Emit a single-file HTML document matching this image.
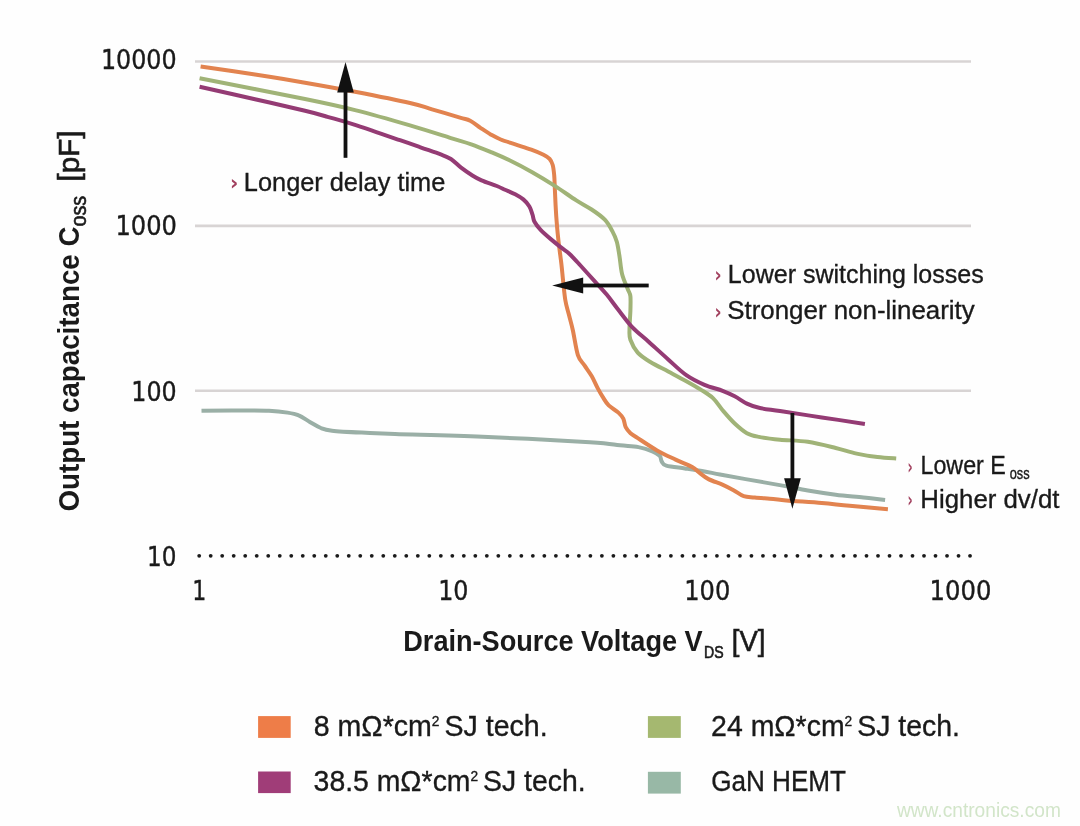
<!DOCTYPE html>
<html><head><meta charset="utf-8"><title>Output capacitance vs drain-source voltage</title>
<style>html,body{margin:0;padding:0;background:#fefefe;}body{width:1080px;height:826px;overflow:hidden;position:relative;}</style>
</head><body>
<svg width="1080" height="826" viewBox="0 0 1080 826" style="position:absolute;left:0;top:0;will-change:transform">
<line x1="195" y1="61.5" x2="971" y2="61.5" stroke="#d8d4d4" stroke-width="2.6"/>
<line x1="195" y1="225.9" x2="971" y2="225.9" stroke="#d8d4d4" stroke-width="2.6"/>
<line x1="195" y1="390.7" x2="971" y2="390.7" stroke="#d8d4d4" stroke-width="2.6"/>
<g fill="#1a1a1a"><circle cx="199.20" cy="555.8" r="1.9"/><circle cx="210.70" cy="555.8" r="1.9"/><circle cx="222.21" cy="555.8" r="1.9"/><circle cx="233.71" cy="555.8" r="1.9"/><circle cx="245.22" cy="555.8" r="1.9"/><circle cx="256.73" cy="555.8" r="1.9"/><circle cx="268.23" cy="555.8" r="1.9"/><circle cx="279.74" cy="555.8" r="1.9"/><circle cx="291.24" cy="555.8" r="1.9"/><circle cx="302.75" cy="555.8" r="1.9"/><circle cx="314.25" cy="555.8" r="1.9"/><circle cx="325.75" cy="555.8" r="1.9"/><circle cx="337.26" cy="555.8" r="1.9"/><circle cx="348.76" cy="555.8" r="1.9"/><circle cx="360.27" cy="555.8" r="1.9"/><circle cx="371.77" cy="555.8" r="1.9"/><circle cx="383.28" cy="555.8" r="1.9"/><circle cx="394.78" cy="555.8" r="1.9"/><circle cx="406.29" cy="555.8" r="1.9"/><circle cx="417.80" cy="555.8" r="1.9"/><circle cx="429.30" cy="555.8" r="1.9"/><circle cx="440.81" cy="555.8" r="1.9"/><circle cx="452.31" cy="555.8" r="1.9"/><circle cx="463.81" cy="555.8" r="1.9"/><circle cx="475.32" cy="555.8" r="1.9"/><circle cx="486.82" cy="555.8" r="1.9"/><circle cx="498.33" cy="555.8" r="1.9"/><circle cx="509.84" cy="555.8" r="1.9"/><circle cx="521.34" cy="555.8" r="1.9"/><circle cx="532.85" cy="555.8" r="1.9"/><circle cx="544.35" cy="555.8" r="1.9"/><circle cx="555.86" cy="555.8" r="1.9"/><circle cx="567.36" cy="555.8" r="1.9"/><circle cx="578.87" cy="555.8" r="1.9"/><circle cx="590.37" cy="555.8" r="1.9"/><circle cx="601.88" cy="555.8" r="1.9"/><circle cx="613.38" cy="555.8" r="1.9"/><circle cx="624.88" cy="555.8" r="1.9"/><circle cx="636.39" cy="555.8" r="1.9"/><circle cx="647.89" cy="555.8" r="1.9"/><circle cx="659.40" cy="555.8" r="1.9"/><circle cx="670.90" cy="555.8" r="1.9"/><circle cx="682.41" cy="555.8" r="1.9"/><circle cx="693.91" cy="555.8" r="1.9"/><circle cx="705.42" cy="555.8" r="1.9"/><circle cx="716.92" cy="555.8" r="1.9"/><circle cx="728.43" cy="555.8" r="1.9"/><circle cx="739.93" cy="555.8" r="1.9"/><circle cx="751.44" cy="555.8" r="1.9"/><circle cx="762.94" cy="555.8" r="1.9"/><circle cx="774.45" cy="555.8" r="1.9"/><circle cx="785.95" cy="555.8" r="1.9"/><circle cx="797.46" cy="555.8" r="1.9"/><circle cx="808.96" cy="555.8" r="1.9"/><circle cx="820.47" cy="555.8" r="1.9"/><circle cx="831.98" cy="555.8" r="1.9"/><circle cx="843.48" cy="555.8" r="1.9"/><circle cx="854.99" cy="555.8" r="1.9"/><circle cx="866.49" cy="555.8" r="1.9"/><circle cx="878.00" cy="555.8" r="1.9"/><circle cx="889.50" cy="555.8" r="1.9"/><circle cx="901.01" cy="555.8" r="1.9"/><circle cx="912.51" cy="555.8" r="1.9"/><circle cx="924.02" cy="555.8" r="1.9"/><circle cx="935.52" cy="555.8" r="1.9"/><circle cx="947.03" cy="555.8" r="1.9"/><circle cx="958.53" cy="555.8" r="1.9"/><circle cx="970.04" cy="555.8" r="1.9"/></g>
<g fill="none" stroke-width="4" stroke-linejoin="round" stroke-linecap="butt">
<path d="M201.5,410.7 C206.6,410.6 220.8,410.4 232.0,410.4 C243.2,410.4 259.7,410.3 269.0,410.7 C278.3,411.1 282.7,411.8 287.6,412.6 C292.6,413.4 295.0,413.8 298.7,415.4 C302.4,416.9 306.1,419.8 309.8,421.9 C313.5,424.0 317.2,426.5 320.9,428.0 C324.6,429.5 325.2,429.9 332.0,430.7 C338.8,431.5 351.2,432.1 361.7,432.6 C372.2,433.1 374.9,433.2 395.0,433.9 C415.1,434.6 450.1,435.3 482.6,436.7 C515.1,438.1 567.1,440.8 590.0,442.2 C612.9,443.6 611.9,444.5 620.0,445.3 C628.1,446.1 633.1,446.1 638.5,447.1 C643.9,448.1 648.9,449.8 652.4,451.3 C655.9,452.8 658.2,454.2 659.8,455.9 C661.3,457.6 660.6,459.9 661.7,461.5 C662.8,463.1 662.4,464.5 666.3,465.6 C670.1,466.8 678.6,467.5 684.8,468.4 C691.0,469.3 697.4,470.2 703.3,471.2 C709.2,472.2 713.0,473.2 720.0,474.5 C727.0,475.8 735.2,477.2 745.6,479.1 C756.0,481.0 772.2,483.7 782.6,485.6 C793.0,487.5 798.9,489.0 807.8,490.5 C816.6,492.0 826.4,493.5 835.7,494.7 C845.0,495.9 855.3,496.6 863.5,497.5 C871.7,498.4 881.5,499.6 885.1,500.0" stroke="#9aafa6"/>
<path d="M200.6,66.4 C209.7,67.8 237.6,71.9 255.0,74.6 C272.4,77.3 288.3,79.8 305.0,82.7 C321.7,85.6 337.5,88.4 355.0,91.8 C372.5,95.2 397.2,100.1 410.0,103.0 C422.8,105.9 423.7,106.9 432.0,109.3 C440.3,111.7 453.6,115.7 460.0,117.6 C466.4,119.5 466.8,119.0 470.2,120.7 C473.6,122.4 477.0,125.5 480.4,127.8 C483.8,130.1 487.2,132.5 490.6,134.4 C494.0,136.3 496.5,137.8 500.7,139.5 C504.9,141.2 510.9,142.9 516.0,144.6 C521.1,146.3 526.7,148.0 531.3,149.7 C535.9,151.4 540.5,153.3 543.5,154.8 C546.5,156.3 548.1,157.2 549.6,158.9 C551.1,160.6 551.9,162.3 552.7,165.0 C553.5,167.7 553.8,171.0 554.2,175.2 C554.6,179.4 554.6,184.3 554.9,190.2 C555.2,196.1 555.5,204.7 555.9,210.6 C556.2,216.5 556.6,220.7 557.0,225.8 C557.4,230.9 557.8,234.6 558.5,241.1 C559.2,247.6 560.8,258.6 561.5,265.0 C562.2,271.4 562.4,274.0 563.0,279.8 C563.6,285.6 564.4,294.4 565.3,300.0 C566.2,305.6 567.3,308.5 568.6,313.6 C569.9,318.7 571.4,323.6 572.9,330.5 C574.4,337.4 576.0,349.3 577.9,355.1 C579.8,360.9 582.2,361.9 584.5,365.4 C586.8,368.9 589.6,372.5 591.8,376.3 C594.0,380.1 596.0,385.0 597.8,388.4 C599.6,391.8 600.9,394.1 602.7,396.9 C604.5,399.7 606.1,402.8 608.7,405.4 C611.3,408.0 616.0,410.4 618.4,412.6 C620.8,414.8 622.1,416.3 623.3,418.7 C624.5,421.1 624.5,424.8 625.7,427.2 C626.9,429.6 628.5,431.4 630.5,433.2 C632.5,435.0 633.4,435.2 637.8,438.1 C642.2,441.0 650.7,446.8 657.0,450.4 C663.3,454.0 669.7,456.8 675.6,459.6 C681.5,462.4 688.2,464.8 692.2,467.0 C696.2,469.2 696.6,470.6 699.3,472.6 C702.0,474.6 704.6,477.1 708.5,479.1 C712.4,481.1 718.2,482.8 722.4,484.6 C726.6,486.5 730.0,488.3 733.5,490.2 C737.0,492.1 740.2,495.0 743.7,496.2 C747.2,497.4 749.9,497.1 754.8,497.6 C759.7,498.1 768.0,498.5 773.3,499.0 C778.5,499.5 778.2,499.7 786.3,500.4 C794.4,501.1 811.2,502.1 821.8,503.0 C832.3,503.9 838.6,504.8 849.6,505.8 C860.6,506.9 881.5,508.7 887.9,509.3" stroke="#e2834f"/>
<path d="M199.6,78.2 C217.2,81.7 279.1,93.7 305.0,99.0 C330.9,104.3 337.5,105.7 355.0,110.1 C372.5,114.5 394.0,120.7 410.0,125.4 C426.0,130.1 440.7,134.9 450.9,138.1 C461.1,141.2 464.5,141.9 471.3,144.3 C478.1,146.7 485.2,149.7 491.7,152.4 C498.1,155.1 503.2,157.2 510.0,160.5 C516.8,163.8 524.8,168.0 532.2,172.2 C539.6,176.4 547.0,180.9 554.4,185.6 C561.8,190.3 570.1,196.4 576.3,200.4 C582.5,204.4 586.9,206.3 591.6,209.5 C596.4,212.7 601.4,216.1 604.8,219.7 C608.2,223.3 610.2,227.2 612.2,230.9 C614.2,234.6 615.6,237.6 616.8,241.8 C618.0,246.0 618.6,250.9 619.5,256.3 C620.4,261.8 620.8,269.1 622.2,274.5 C623.6,279.9 626.3,285.4 627.7,289.0 C629.1,292.6 630.0,292.7 630.4,296.3 C630.8,299.9 630.5,305.4 630.4,310.8 C630.2,316.2 629.5,324.2 629.5,329.0 C629.5,333.8 629.0,335.9 630.4,339.8 C631.8,343.7 634.4,348.9 637.7,352.6 C641.0,356.3 645.3,358.9 650.4,362.0 C655.5,365.1 662.2,368.3 668.2,371.5 C674.2,374.7 680.9,378.2 686.3,381.2 C691.7,384.2 696.3,386.8 700.8,389.6 C705.2,392.4 709.4,394.7 713.0,398.1 C716.6,401.5 719.0,406.0 722.6,410.2 C726.2,414.4 730.7,419.7 734.7,423.5 C738.8,427.3 742.9,431.0 746.9,433.2 C750.9,435.4 753.5,435.8 759.0,436.9 C764.5,438.0 771.9,438.9 780.0,439.7 C788.1,440.5 798.5,440.4 807.8,441.8 C817.1,443.2 827.6,446.0 835.7,448.0 C843.8,450.0 849.6,452.1 856.6,453.6 C863.6,455.1 870.9,456.3 877.5,457.1 C884.1,457.9 893.1,458.3 896.2,458.5" stroke="#a0b377"/>
<path d="M199.6,86.8 C208.8,88.9 237.4,95.2 255.0,99.2 C272.6,103.2 292.9,107.9 305.0,110.8 C317.1,113.7 319.2,114.4 327.5,116.8 C335.8,119.2 342.9,121.0 355.0,124.9 C367.1,128.8 389.1,136.5 400.0,140.2 C410.9,143.9 413.6,144.9 420.4,147.3 C427.2,149.7 435.6,152.5 440.7,154.4 C445.8,156.3 447.5,156.8 450.9,159.0 C454.3,161.2 457.7,165.1 461.1,167.7 C464.5,170.3 467.9,172.7 471.3,174.8 C474.7,176.9 477.2,178.5 481.5,180.4 C485.8,182.3 492.9,184.4 496.8,186.0 C500.7,187.6 501.9,188.3 505.0,189.7 C508.1,191.1 512.2,192.7 515.2,194.3 C518.2,195.9 520.9,197.4 523.3,199.4 C525.7,201.4 527.9,204.0 529.4,206.5 C530.9,209.0 531.6,212.0 532.5,214.6 C533.4,217.2 533.1,219.2 534.5,221.8 C535.9,224.4 537.9,227.0 540.6,229.9 C543.3,232.8 547.2,236.1 550.8,239.1 C554.4,242.1 558.9,245.8 562.0,248.2 C565.1,250.6 566.3,250.9 569.3,253.7 C572.3,256.5 575.8,260.4 580.0,265.0 C584.2,269.6 590.3,276.4 594.8,281.3 C599.2,286.2 602.9,290.0 606.7,294.6 C610.5,299.2 613.5,303.6 617.7,309.0 C622.0,314.4 627.1,321.7 632.2,327.1 C637.4,332.6 642.6,336.3 648.6,341.7 C654.6,347.1 661.9,353.8 668.2,359.4 C674.5,365.0 680.2,370.9 686.3,375.1 C692.3,379.3 698.5,382.2 704.5,384.8 C710.5,387.4 717.6,388.9 722.6,390.8 C727.6,392.7 730.7,394.2 734.7,396.3 C738.8,398.4 742.9,401.7 746.9,403.6 C750.9,405.5 753.5,406.6 759.0,407.8 C764.5,409.1 769.5,409.5 780.0,411.1 C790.5,412.7 807.6,415.3 821.8,417.4 C835.9,419.5 857.7,422.8 864.9,423.9" stroke="#943b74"/>
</g>
<g fill="#111111" id="arrows">
<rect x="343.6" y="90" width="3.8" height="67.8"/>
<polygon points="345.5,61.9 337.2,92.6 353.8,92.6"/>
<rect x="581" y="283.6" width="67.7" height="3.8"/>
<polygon points="552.2,285.6 583.2,277.6 583.2,293.6"/>
<rect x="790.5" y="413" width="3.8" height="67"/>
<polygon points="784.1,478.2 800.8,478.2 792.4,508.8"/>
</g>
<g font-family="'Liberation Sans', Arial, sans-serif" opacity="0.999">
<text id="yt10000" x="100.88" y="68.60" font-size="27.40" font-weight="400" fill="#1a1a1a" textLength="75.67" lengthAdjust="spacingAndGlyphs" font-family="'DejaVu Sans Condensed', 'DejaVu Sans', sans-serif" stroke="#1a1a1a" stroke-width="0.35">10000</text>
<text id="yt1000" x="115.43" y="234.70" font-size="27.40" font-weight="400" fill="#1a1a1a" textLength="61.45" lengthAdjust="spacingAndGlyphs" font-family="'DejaVu Sans Condensed', 'DejaVu Sans', sans-serif" stroke="#1a1a1a" stroke-width="0.35">1000</text>
<text id="yt100" x="131.28" y="400.60" font-size="27.40" font-weight="400" fill="#1a1a1a" textLength="45.34" lengthAdjust="spacingAndGlyphs" font-family="'DejaVu Sans Condensed', 'DejaVu Sans', sans-serif" stroke="#1a1a1a" stroke-width="0.35">100</text>
<text id="yt10" x="147.09" y="565.80" font-size="27.40" font-weight="400" fill="#1a1a1a" textLength="29.41" lengthAdjust="spacingAndGlyphs" font-family="'DejaVu Sans Condensed', 'DejaVu Sans', sans-serif" stroke="#1a1a1a" stroke-width="0.35">10</text>
<text id="xt1" x="192.14" y="599.80" font-size="27.40" font-weight="400" fill="#1a1a1a" textLength="14.07" lengthAdjust="spacingAndGlyphs" font-family="'DejaVu Sans Condensed', 'DejaVu Sans', sans-serif" stroke="#1a1a1a" stroke-width="0.35">1</text>
<text id="xt10" x="438.24" y="599.80" font-size="27.40" font-weight="400" fill="#1a1a1a" textLength="30.28" lengthAdjust="spacingAndGlyphs" font-family="'DejaVu Sans Condensed', 'DejaVu Sans', sans-serif" stroke="#1a1a1a" stroke-width="0.35">10</text>
<text id="xt100" x="684.24" y="599.80" font-size="27.40" font-weight="400" fill="#1a1a1a" textLength="45.98" lengthAdjust="spacingAndGlyphs" font-family="'DejaVu Sans Condensed', 'DejaVu Sans', sans-serif" stroke="#1a1a1a" stroke-width="0.35">100</text>
<text id="xt1000" x="929.60" y="599.80" font-size="27.40" font-weight="400" fill="#1a1a1a" textLength="61.85" lengthAdjust="spacingAndGlyphs" font-family="'DejaVu Sans Condensed', 'DejaVu Sans', sans-serif" stroke="#1a1a1a" stroke-width="0.35">1000</text>
<text id="xtitle" x="403.26" y="651.00" font-size="29.20" font-weight="700" fill="#1a1a1a" textLength="299.43" lengthAdjust="spacingAndGlyphs">Drain-Source Voltage V</text>
<text id="xsub" x="703.97" y="657.50" font-size="16.20" font-weight="400" fill="#1a1a1a" textLength="19.62" lengthAdjust="spacingAndGlyphs" stroke="#1a1a1a" stroke-width="0.60">DS</text>
<text id="xunit" x="731.83" y="651.00" font-size="29.20" font-weight="400" fill="#1a1a1a" textLength="33.65" lengthAdjust="spacingAndGlyphs" stroke="#1a1a1a" stroke-width="0.60">[V]</text>
<text id="a1b" x="229.95" y="190.20" font-size="22.00" font-weight="700" fill="#a2415f" textLength="8.31" lengthAdjust="spacingAndGlyphs" font-family="'DejaVu Sans', sans-serif">&#8250;</text>
<text id="a1" x="243.86" y="190.60" font-size="26.50" font-weight="400" fill="#1a1a1a" textLength="201.38" lengthAdjust="spacingAndGlyphs" stroke="#1a1a1a" stroke-width="0.35">Longer delay time</text>
<text id="a2b" x="714.48" y="281.90" font-size="22.00" font-weight="700" fill="#a2415f" textLength="7.10" lengthAdjust="spacingAndGlyphs" font-family="'DejaVu Sans', sans-serif">&#8250;</text>
<text id="a2" x="727.85" y="282.50" font-size="26.50" font-weight="400" fill="#1a1a1a" textLength="255.80" lengthAdjust="spacingAndGlyphs" stroke="#1a1a1a" stroke-width="0.35">Lower switching losses</text>
<text id="a3b" x="714.48" y="318.80" font-size="22.00" font-weight="700" fill="#a2415f" textLength="7.10" lengthAdjust="spacingAndGlyphs" font-family="'DejaVu Sans', sans-serif">&#8250;</text>
<text id="a3" x="727.21" y="318.60" font-size="26.50" font-weight="400" fill="#1a1a1a" textLength="247.56" lengthAdjust="spacingAndGlyphs" stroke="#1a1a1a" stroke-width="0.35">Stronger non-linearity</text>
<text id="a4b" x="907.57" y="474.00" font-size="22.00" font-weight="700" fill="#a2415f" textLength="5.18" lengthAdjust="spacingAndGlyphs" font-family="'DejaVu Sans', sans-serif">&#8250;</text>
<text id="a4" x="920.48" y="474.20" font-size="26.50" font-weight="400" fill="#1a1a1a" textLength="85.37" lengthAdjust="spacingAndGlyphs" stroke="#1a1a1a" stroke-width="0.35">Lower E</text>
<text id="a4s" x="1009.75" y="479.20" font-size="17.00" font-weight="400" fill="#1a1a1a" textLength="19.92" lengthAdjust="spacingAndGlyphs" stroke="#1a1a1a" stroke-width="0.40">oss</text>
<text id="a5b" x="907.57" y="507.30" font-size="22.00" font-weight="700" fill="#a2415f" textLength="5.18" lengthAdjust="spacingAndGlyphs" font-family="'DejaVu Sans', sans-serif">&#8250;</text>
<text id="a5" x="920.36" y="508.00" font-size="26.50" font-weight="400" fill="#1a1a1a" textLength="139.09" lengthAdjust="spacingAndGlyphs" stroke="#1a1a1a" stroke-width="0.35">Higher dv/dt</text>
<rect x="258.1" y="716.1" width="32.6" height="21.8" fill="#ee7d48"/>
<rect x="258.1" y="771.5" width="32.6" height="21.6" fill="#a03d78"/>
<rect x="647.9" y="716.1" width="32.9" height="21.8" fill="#a5b870"/>
<rect x="647.9" y="771.8" width="32.9" height="21.8" fill="#98b8a6"/>
<text id="l1" x="313.79" y="735.70" font-size="29.00" font-weight="400" fill="#1a1a1a" textLength="233.86" lengthAdjust="spacingAndGlyphs" stroke="#1a1a1a" stroke-width="0.35">8 m&#937;*cm<tspan font-size="14" dy="-10">2</tspan><tspan dy="10" dx="-3"> SJ tech.</tspan></text>
<text id="l2" x="313.60" y="790.50" font-size="29.00" font-weight="400" fill="#1a1a1a" textLength="272.02" lengthAdjust="spacingAndGlyphs" stroke="#1a1a1a" stroke-width="0.35">38.5 m&#937;*cm<tspan font-size="14" dy="-10">2</tspan><tspan dy="10" dx="-3"> SJ tech.</tspan></text>
<text id="l3" x="711.12" y="735.70" font-size="29.00" font-weight="400" fill="#1a1a1a" textLength="248.80" lengthAdjust="spacingAndGlyphs" stroke="#1a1a1a" stroke-width="0.35">24 m&#937;*cm<tspan font-size="14" dy="-10">2</tspan><tspan dy="10" dx="-3"> SJ tech.</tspan></text>
<text id="l4" x="711.13" y="790.50" font-size="29.00" font-weight="400" fill="#1a1a1a" textLength="134.88" lengthAdjust="spacingAndGlyphs" stroke="#1a1a1a" stroke-width="0.35">GaN HEMT</text>
<text id="wm" x="896.90" y="816.80" font-size="19.50" font-weight="400" fill="#d2e5c9" textLength="163.98" lengthAdjust="spacingAndGlyphs">www.cntronics.com</text>
</g>
<g font-family="'Liberation Sans', Arial, sans-serif" transform="rotate(-90)">
<text id="ytitle" x="-511.44" y="79.20" font-size="30.00" font-weight="700" fill="#1a1a1a" textLength="284.87" lengthAdjust="spacingAndGlyphs">Output capacitance C</text>
<text id="ysub" x="-226.52" y="85.60" font-size="22.50" font-weight="400" fill="#1a1a1a" textLength="30.63" lengthAdjust="spacingAndGlyphs" stroke="#1a1a1a" stroke-width="0.60">oss</text>
<text id="yunit" x="-181.50" y="79.20" font-size="29.00" font-weight="400" fill="#1a1a1a" textLength="51.00" lengthAdjust="spacingAndGlyphs" stroke="#1a1a1a" stroke-width="0.60">[pF]</text>
</g>
</svg>
</body></html>
